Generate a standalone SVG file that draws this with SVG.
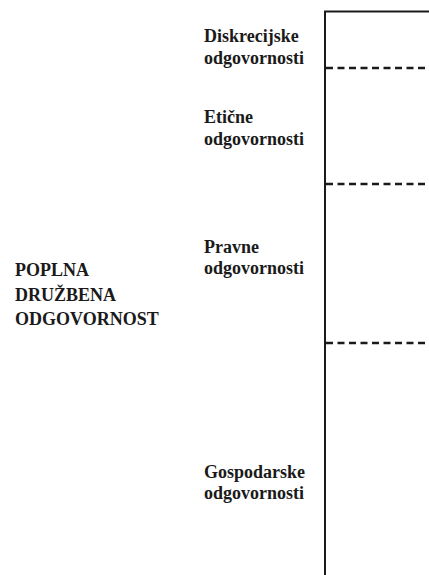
<svg xmlns="http://www.w3.org/2000/svg" width="429" height="575" viewBox="0 0 429 575">
  <style>
    .lbl { font-family: "Liberation Serif", "Times New Roman", serif; font-weight: bold; font-size: 18px; fill: #1a1a1a; }
    .frame { stroke: #1a1a1a; stroke-width: 2; fill: none; }
    .divider { stroke: #1a1a1a; stroke-width: 2.4; stroke-dasharray: 7 4.5; fill: none; }
  </style>
  <rect width="429" height="575" fill="#ffffff"/>

  <!-- outer frame: vertical axis and top edge -->
  <g id="frame">
    <path class="frame" d="M325 575 V11.5 H429"/>
  </g>

  <!-- dashed level separators -->
  <g id="connectors">
    <line class="divider" x1="326" y1="68" x2="429" y2="68"/>
    <line class="divider" x1="326" y1="184" x2="429" y2="184"/>
    <line class="divider" x1="326" y1="343" x2="429" y2="343"/>
  </g>

  <g id="total">
    <text class="lbl" x="15" y="276">POPLNA</text>
    <text class="lbl" x="15" y="301">DRUŽBENA</text>
    <text class="lbl" x="15" y="325">ODGOVORNOST</text>
  </g>

  <g id="discretionary">
    <text class="lbl" x="204" y="42">Diskrecijske</text>
    <text class="lbl" x="204" y="64">odgovornosti</text>
  </g>

  <g id="ethical">
    <text class="lbl" x="204" y="123">Etične</text>
    <text class="lbl" x="204" y="145">odgovornosti</text>
  </g>

  <g id="legal">
    <text class="lbl" x="204" y="253">Pravne</text>
    <text class="lbl" x="204" y="274">odgovornosti</text>
  </g>

  <g id="economic">
    <text class="lbl" x="204" y="478">Gospodarske</text>
    <text class="lbl" x="204" y="499">odgovornosti</text>
  </g>
</svg>
